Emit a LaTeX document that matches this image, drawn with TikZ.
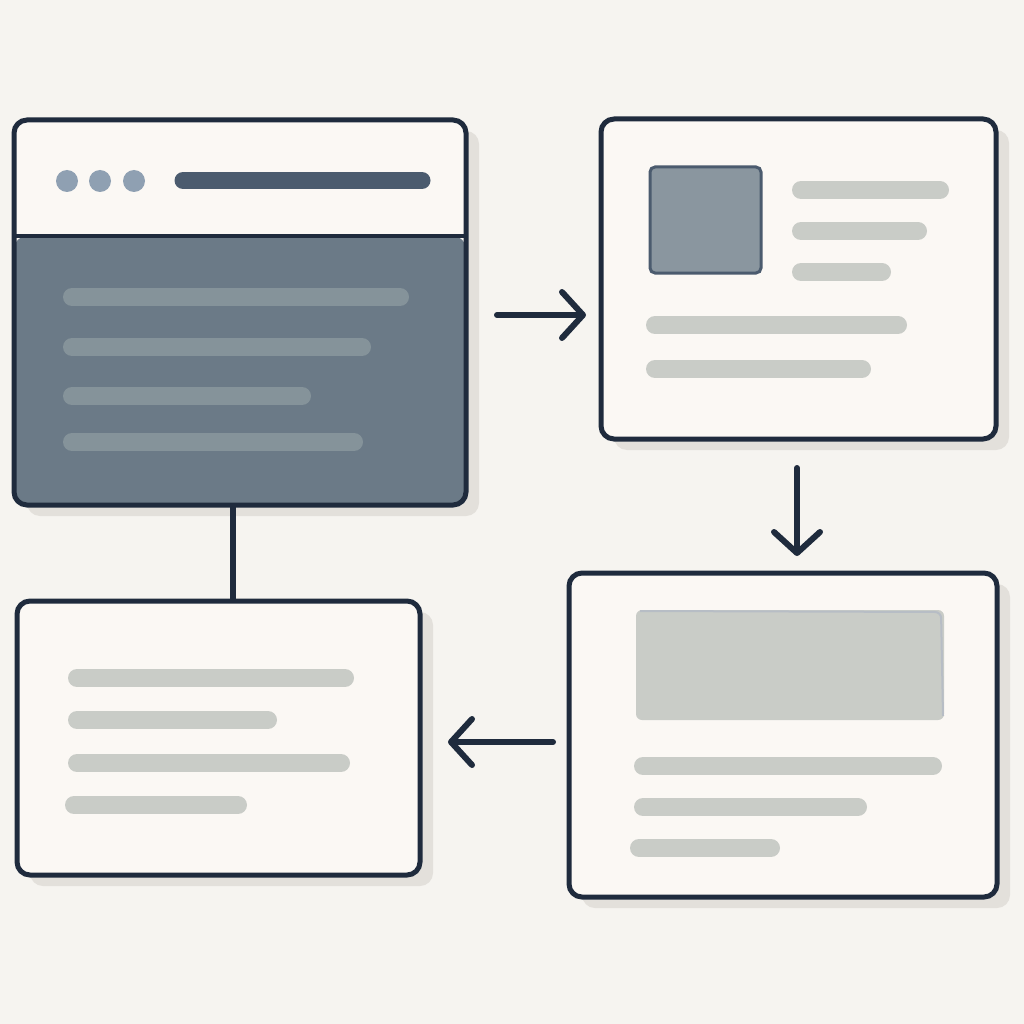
\documentclass[tikz,border=0pt]{standalone}
\usetikzlibrary{arrows.meta,shadows}

\definecolor{bg}{HTML}{F6F4F0}
\definecolor{paper}{HTML}{FBF8F4}
\definecolor{navy}{HTML}{1F2B3D}
\definecolor{slate}{HTML}{6B7A87}
\definecolor{slatebar}{HTML}{85939A}
\definecolor{greybar}{HTML}{C9CCC7}
\definecolor{dot}{HTML}{8FA0B2}
\definecolor{ink}{HTML}{4B5B6E}
\definecolor{photo}{HTML}{8A969F}
\definecolor{shade}{HTML}{E3E0DB}

\tikzstyle{card}=[rectangle,draw=navy,fill=paper,line width=5pt,rounded corners=13pt,
    inner sep=0pt,outer sep=0pt,drop shadow={shadow xshift=13pt,shadow yshift=-11pt,fill=shade,opacity=1}]
\tikzstyle{bar} = [line width=18pt,line cap=round,greybar]
\tikzstyle{flow} = [draw,navy,line width=6pt,line cap=round,-{Straight Barb[length=21pt,width=46pt,round]}]
\tikzstyle{link} = [draw,navy,line width=5.5pt]

\begin{document}
\begin{tikzpicture}[x=1pt,y=-1pt]
    \fill[bg] (0,0) rectangle (1024,1024);

    % cards
    \node[card,minimum width=452pt,minimum height=385pt,
        path picture={\fill[slate] ([yshift=-116pt]path picture bounding box.north west)
            rectangle (path picture bounding box.south east);}] (window) at (240,312.5) {};
    \node[card,minimum width=395pt,minimum height=320pt] (profile) at (798.5,279) {};
    \node[card,minimum width=428pt,minimum height=324pt] (article) at (783,735) {};
    \node[card,minimum width=403pt,minimum height=274pt] (listing) at (218.5,738) {};
    \draw[navy,line width=4pt] ([yshift=-116pt]window.north west) -- ([yshift=-116pt]window.north east);

    % window header
    \foreach \x in {67,100,134}
        \fill[dot] (\x,181) circle (11);
    \draw[ink,line width=17pt,line cap=round] (183,180.5) -- (422,180.5);
    \foreach \y/\xb in {297/400, 347/362, 396/302, 442/354}
        \draw[bar,slatebar] (72,\y) -- (\xb,\y);

    % profile card
    \draw[ink,fill=photo,line width=3pt,rounded corners=5pt] (650,167) rectangle (761,273);
    \foreach \xa/\y/\xb in {801/190/940, 801/231/918, 801/272/882, 655/325/898, 655/369/862}
        \draw[bar] (\xa,\y) -- (\xb,\y);

    % article card
    \fill[greybar,rounded corners=6pt] (636,610) rectangle (944,720);
    \draw[ink!40,line width=2pt,rounded corners=6pt] (640,611) -- (941,612) -- (943,716);
    \foreach \xa/\y/\xb in {643/766/933, 643/807/858, 639/848/771}
        \draw[bar] (\xa,\y) -- (\xb,\y);

    % listing card
    \foreach \xa/\y/\xb in {77/678/345, 77/720/268, 77/763/341, 74/805/238}
        \draw[bar] (\xa,\y) -- (\xb,\y);

    % connectors
    \path[flow,shorten <=31pt,shorten >=15pt] ([yshift=-2.5pt]window.east) -- ([yshift=-2.5pt]window.east -| profile.west);
    \path[flow,shorten <=29pt,shorten >=17pt] ([xshift=-1.5pt]profile.south) -- ([xshift=-1.5pt]profile.south |- article.north);
    \path[flow,shorten <=16pt,shorten >=28pt] ([yshift=-7pt]article.west) -- ([yshift=-7pt]article.west -| listing.east);
    \path[link] ([xshift=-7pt]window.south) -- ([xshift=-7pt]window.south |- listing.north);
\end{tikzpicture}
\end{document}
